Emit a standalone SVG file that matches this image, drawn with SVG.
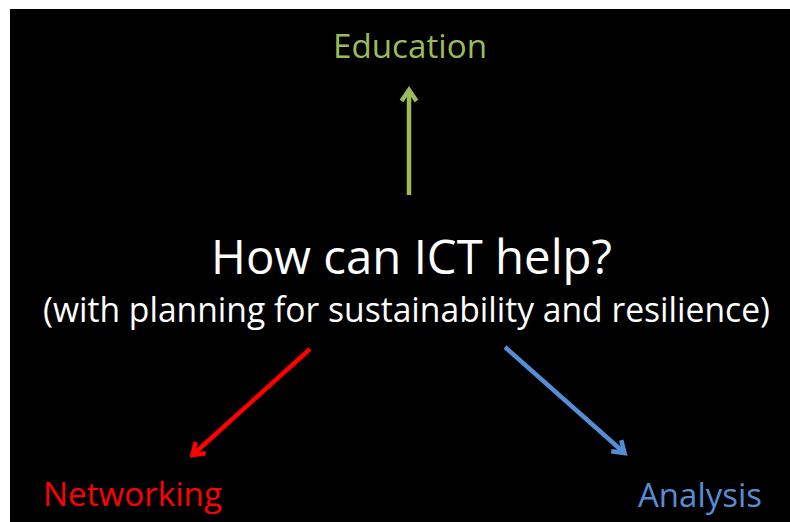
<svg xmlns="http://www.w3.org/2000/svg" width="790" height="522" viewBox="0 0 790 522">
<style>
text { font-family: "Open Sans", "Noto Sans", "Liberation Sans", sans-serif; }
.t { fill: #ffffff; }
.conn line { stroke-width: 4.5; fill: none; }
.hd { fill: none; stroke-width: 4.5; stroke-linejoin: miter; stroke-linecap: butt; }
</style>
<defs>
<marker id="mg" markerUnits="userSpaceOnUse" viewBox="-20 -12 24 24" markerWidth="24" markerHeight="24" refX="0" refY="0" orient="auto" overflow="visible">
<path class="hd" d="M-11,-7.5 L0,0 L-11,7.5" stroke="#9BBB59"/>
</marker>
<marker id="mr" markerUnits="userSpaceOnUse" viewBox="-20 -12 24 24" markerWidth="24" markerHeight="24" refX="0" refY="0" orient="auto" overflow="visible">
<path class="hd" d="M-11,-7.5 L0,0 L-11,7.5" stroke="#FF0000"/>
</marker>
<marker id="mb" markerUnits="userSpaceOnUse" viewBox="-20 -12 24 24" markerWidth="24" markerHeight="24" refX="0" refY="0" orient="auto" overflow="visible">
<path class="hd" d="M-11,-7.5 L0,0 L-11,7.5" stroke="#558ED5"/>
</marker>
</defs>
<rect x="0" y="0" width="790" height="522" fill="#ffffff"/>
<rect x="10" y="9" width="780" height="513" fill="#000000"/>
<g id="center">
<text class="t" x="211" y="274" font-size="47" textLength="401" lengthAdjust="spacingAndGlyphs">How can ICT help?</text>
<text class="t" x="43" y="322" font-size="34" textLength="727" lengthAdjust="spacingAndGlyphs">(with planning for sustainability and resilience)</text>
</g>
<g id="education">
<text x="333" y="58" font-size="32" fill="#9BBB59" textLength="154" lengthAdjust="spacingAndGlyphs">Education</text>
</g>
<g id="networking">
<text x="43" y="506" font-size="32" fill="#FF0000" textLength="179" lengthAdjust="spacingAndGlyphs">Networking</text>
</g>
<g id="analysis">
<text x="638" y="507" font-size="33" fill="#558ED5" textLength="124" lengthAdjust="spacingAndGlyphs">Analysis</text>
</g>
<g id="connectors" class="conn">
<line x1="409" y1="195" x2="409" y2="90" stroke="#9BBB59" marker-end="url(#mg)"/>
<line x1="310" y1="349" x2="192.5" y2="455" stroke="#FF0000" marker-end="url(#mr)"/>
<line x1="505" y1="347" x2="624.5" y2="453" stroke="#558ED5" marker-end="url(#mb)"/>
</g>
</svg>
